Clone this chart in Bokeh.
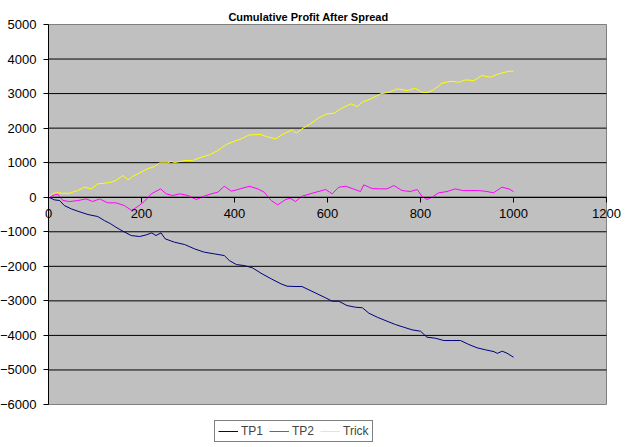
from bokeh.plotting import figure
from bokeh.models import Legend, LegendItem, FixedTicker, Range1d, LinearAxis, Label
from bokeh.embed import file_html
from bokeh.resources import INLINE

title_text = "Cumulative Profit After Spread"
series_names = ["TP1", "TP2", "Trick"]

x_ticks = [0, 200, 400, 600, 800, 1000, 1200]
y_ticks = [-6000, -5000, -4000, -3000, -2000, -1000, 0, 1000, 2000, 3000, 4000, 5000]

tp1_x = [0, 13, 24, 34, 49, 63, 85, 106, 120, 134, 145, 160, 178, 196, 210,
         222, 231, 242, 251, 271, 293, 314, 335, 357, 378, 389, 404, 421, 439, 457,
         479, 500, 513, 530, 545, 560, 578, 596, 610, 624, 642, 660, 675, 689, 707,
         728, 746, 764, 782, 800, 814, 832, 850, 868, 886, 904, 922, 940, 958, 965,
         976, 986, 1000]
tp1_y = [0, -77, -96, -240, -337, -405, -501, -559, -675, -771, -868, -984, -1109, -1138, -1090,
         -1032, -1109, -1032, -1205, -1302, -1370, -1495, -1591, -1640, -1688, -1833, -1949, -1978, -2046, -2200,
         -2363, -2508, -2575, -2585, -2585, -2681, -2797, -2913, -3010, -3010, -3135, -3184, -3200, -3357, -3473,
         -3589, -3685, -3763, -3839, -3879, -4052, -4081, -4148, -4148, -4148, -4264, -4360, -4418, -4470, -4520,
         -4457, -4515, -4631]

tp2_x = [0, 13, 20, 31, 45, 63, 81, 95, 110, 127, 145, 163, 179, 195, 206,
         221, 241, 253, 267, 282, 300, 318, 332, 350, 364, 378, 393, 407, 432, 450,
         464, 479, 493, 504, 510, 520, 531, 545, 570, 596, 610, 624, 639, 653, 671,
         678, 696, 714, 728, 743, 760, 778, 793, 803, 814, 825, 839, 857, 875, 890,
         907, 925, 943, 957, 975, 990, 1000]
tp2_y = [0, 69, 90, -96, -125, -96, -48, -125, -48, -163, -163, -240, -385, -240, -125,
         98, 242, 98, 49, 98, 49, -67, 20, 98, 145, 318, 175, 223, 318, 242,
         145, -96, -221, -120, -67, -29, -125, 29, 127, 223, 98, 290, 318, 252, 165,
         358, 252, 242, 242, 338, 194, 165, 223, 29, -67, 0, 127, 165, 242, 194,
         194, 194, 165, 127, 290, 242, 165]

trick_x = [0, 10, 20, 30, 45, 63, 77, 92, 106, 120, 134, 145, 160, 171, 181,
           199, 213, 228, 239, 257, 264, 271, 293, 310, 328, 346, 364, 382, 400, 414,
           432, 457, 468, 488, 506, 524, 533, 545, 563, 581, 599, 614, 628, 650, 664,
           675, 696, 714, 732, 750, 771, 789, 803, 814, 828, 846, 865, 882, 897, 915,
           932, 950, 968, 990, 1000]
trick_y = [0, 110, 130, 115, 115, 194, 290, 243, 387, 405, 434, 483, 628, 503, 599,
           724, 822, 889, 994, 994, 1042, 1004, 1062, 1062, 1158, 1226, 1351, 1525, 1621, 1689,
           1805, 1815, 1757, 1690, 1834, 1950, 1853, 1979, 2124, 2297, 2413, 2432, 2558, 2703, 2625,
           2750, 2865, 2993, 3039, 3137, 3088, 3155, 3039, 3030, 3108, 3300, 3357, 3329, 3397, 3378,
           3523, 3473, 3570, 3647, 3647]

FONT = "Liberation Sans"

W, H = 625, 447
# plot area in pixels: x 48..606, y 24..404
xmin, xmax = x_ticks[0], x_ticks[-1]
ymin, ymax = y_ticks[0], y_ticks[-1]
sx = (606 - 48) / (xmax - xmin)
sy = (404 - 24) / (ymax - ymin)
x_range = Range1d(xmin - 48 / sx, xmax + (W - 606) / sx)
y_range = Range1d(ymin - (H - 404) / sy, ymax + 24 / sy)

p = figure(width=W, height=H, output_backend="svg", toolbar_location=None,
           x_range=x_range, y_range=y_range, x_axis_type=None, y_axis_type=None,
           min_border_left=0, min_border_right=0, min_border_top=0, min_border_bottom=0)
p.title.visible = False

p.background_fill_color = "white"
p.border_fill_color = "white"
p.outline_line_color = None
p.grid.visible = False

# plot area
p.quad(left=xmin, right=xmax, bottom=ymin, top=ymax,
       fill_color="#C0C0C0", line_color="#808080", line_width=1)
# horizontal gridlines
inner = y_ticks[1:-1]
p.segment(x0=[xmin] * len(inner), x1=[xmax] * len(inner), y0=inner, y1=inner,
          line_color="black", line_width=1)

r1 = p.line(tp1_x, tp1_y, line_color="#000080", line_width=1)
r2 = p.line(tp2_x, tp2_y, line_color="#FF00FF", line_width=1)
r3 = p.line(trick_x, trick_y, line_color="#FFFF00", line_width=1)

yaxis = LinearAxis(fixed_location=0, bounds=(ymin, ymax), ticker=FixedTicker(ticks=y_ticks))
xaxis = LinearAxis(fixed_location=0, bounds=(xmin, xmax), ticker=FixedTicker(ticks=x_ticks))
for ax in (xaxis, yaxis):
    ax.axis_line_color = "black"
    ax.major_tick_line_color = "black"
    ax.major_tick_out = 5
    ax.major_tick_in = 0
    ax.minor_tick_line_color = None
    ax.major_label_text_font = FONT
    ax.major_label_text_font_size = "13px"
    ax.major_label_text_color = "black"
yaxis.major_label_standoff = 7
xaxis.major_label_standoff = 7
p.add_layout(yaxis, "left")
p.add_layout(xaxis, "below")

title = Label(x=308, y=H - 16, x_units="screen", y_units="screen", text=title_text,
              text_align="center", text_baseline="alphabetic",
              text_font=FONT, text_font_size="11px", text_font_style="bold",
              text_color="black")
p.add_layout(title)

legend = Legend(items=[LegendItem(label=series_names[0], renderers=[r1]),
                       LegendItem(label=series_names[1], renderers=[r2]),
                       LegendItem(label=series_names[2], renderers=[r3])],
                orientation="horizontal", location=(214, 5),
                label_text_font=FONT, label_text_font_size="12px",
                glyph_width=20, glyph_height=12, label_height=12,
                label_standoff=3, spacing=6, padding=3, margin=0,
                border_line_color="black", border_line_width=1,
                background_fill_color="white", background_fill_alpha=1)
p.add_layout(legend, "center")

open("out.html", "w").write(file_html(p, INLINE))
